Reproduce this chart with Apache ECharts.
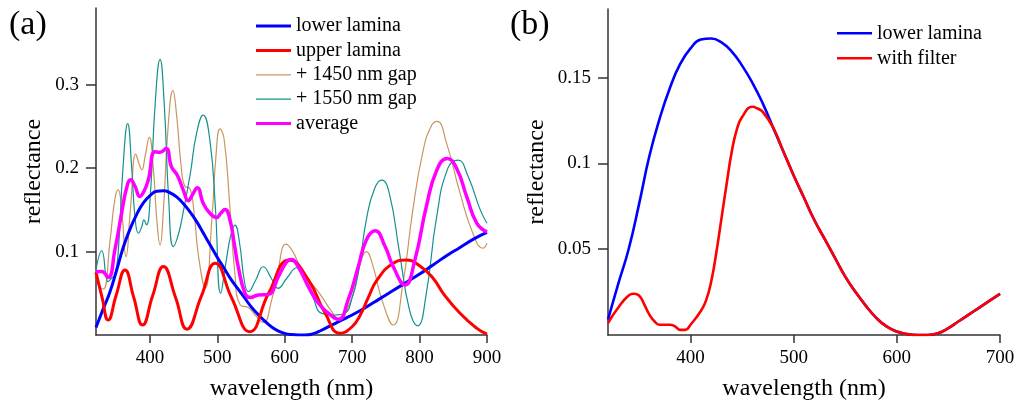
<!DOCTYPE html>
<html><head><meta charset="utf-8">
<script src="https://cdn.jsdelivr.net/npm/echarts@6/dist/echarts.min.js"></script>
<style>html,body{margin:0;padding:0;background:#fff}#c{width:1017px;height:403px}</style>
</head><body><div id="c"></div>
<script>
// ---------- data (panel a) ----------
const blueX = [320,330,340,350,360,370,380,390,400,410,420,430,440,450,460,470,480,490,500,510,520,530,540,550,560,570,580,590,600,610,620,630,640,650,660,670,680,690,700,720,740,760,780,800,820,840,860,880,900];
const blueY = [0.009,0.030,0.050,0.076,0.104,0.126,0.144,0.158,0.167,0.1722,0.1728,0.1705,0.1652,0.157,0.147,0.135,0.121,0.107,0.093,0.080,0.067,0.056,0.045,0.034,0.025,0.017,0.010,0.005,0.002,0.0005,0.000,0.000,0.001,0.004,0.008,0.012,0.016,0.020,0.024,0.033,0.043,0.053,0.063,0.073,0.084,0.095,0.105,0.115,0.123];

const upperX = [320,329,338,350,363,376,389,404,420,438,455,476,497,521,548,576,607,635,660,682,700,712,724,737,761,780,800,820,835,860,885,900];
const upperY = [0.075,0.045,0.018,0.048,0.078,0.045,0.012,0.047,0.082,0.045,0.007,0.046,0.086,0.045,0.004,0.050,0.090,0.066,0.026,0.002,0.010,0.024,0.045,0.066,0.086,0.090,0.083,0.068,0.050,0.026,0.008,0.001];

const gap1450X = [320,326,331,341,348,353,358,364.5,371,379,384,388,393,399,405,410,415,420,427,434,440,446,452,459,465,472,482,492,498,504,510,518,526,534,546,556,568,580,590,602,612,625,640,655,668,682,692,702,712,721,730,745,761,775,790,805,817,826,840,860,880,894,900];
const gap1450Y = [0.078,0.058,0.055,0.114,0.163,0.174,0.150,0.094,0.150,0.217,0.205,0.198,0.215,0.237,0.200,0.140,0.108,0.150,0.250,0.293,0.260,0.205,0.178,0.176,0.150,0.095,0.056,0.140,0.215,0.247,0.235,0.160,0.074,0.036,0.033,0.024,0.015,0.040,0.078,0.109,0.100,0.078,0.062,0.046,0.030,0.018,0.030,0.050,0.086,0.100,0.085,0.040,0.012,0.060,0.150,0.220,0.250,0.256,0.230,0.170,0.120,0.104,0.110];

const gap1550X = [320,328.5,338,343,348,353,360,367,373,378,383,388,391,395,400,408,415,421,428,434.7,442,450,460,469,479,489,497,505,512,520,526,533,540,546,557,568,580,590,603,618,630,642,655,675,689,700,709,721,733,744,755,770,785,797,810,825,842,857,872,890,900];
const gap1550Y = [0.078,0.101,0.064,0.068,0.072,0.100,0.200,0.2535,0.200,0.140,0.122,0.130,0.138,0.132,0.160,0.280,0.3305,0.280,0.160,0.106,0.120,0.150,0.194,0.241,0.2635,0.233,0.154,0.050,0.083,0.120,0.1317,0.110,0.065,0.052,0.066,0.0818,0.068,0.056,0.068,0.0806,0.068,0.045,0.026,0.024,0.026,0.045,0.074,0.138,0.175,0.1856,0.170,0.100,0.030,0.011,0.050,0.140,0.200,0.2096,0.190,0.150,0.134];

const avgX = [320,328.5,338,348,358,365,371.4,378,385,391,397.6,407.5,415,424,432,440.6,449.5,457,463,470.3,479,489,499,505,511.4,519,525,531,541,548.5,560.8,575.6,590.5,603,610,620,635,650,665,679.5,694,709,721,734,749,761,778.5,793,810,825.5,841,855,870,885,900];
const avgY = [0.0758,0.076,0.069,0.102,0.146,0.175,0.186,0.178,0.166,0.172,0.186,0.2196,0.219,0.2236,0.2016,0.1916,0.1737,0.161,0.168,0.1764,0.158,0.146,0.141,0.146,0.1505,0.137,0.110,0.0818,0.050,0.045,0.048,0.0487,0.070,0.0878,0.0906,0.0818,0.058,0.038,0.026,0.0188,0.042,0.0818,0.114,0.125,0.1058,0.0818,0.060,0.090,0.154,0.1976,0.2116,0.1996,0.1656,0.1338,0.1237];

// ---------- data (panel b) ----------
const lowerBX = [320,330,340,350,360,370,380,390,400,410,420,430,440,450,460,470,480,490,500,510,520,530,540,550,560,570,580,590,600,610,620,630,640,650,660,670,680,690,700];
const lowerBY = [0.009,0.030,0.050,0.076,0.104,0.126,0.144,0.158,0.167,0.1722,0.1728,0.1705,0.1652,0.157,0.147,0.135,0.121,0.107,0.093,0.080,0.067,0.056,0.045,0.034,0.025,0.017,0.010,0.005,0.002,0.0005,0.000,0.000,0.001,0.004,0.008,0.012,0.016,0.020,0.024];
const filterX = [320,330,340,345,350,355,360,365,370,380,385,390,395,400,410,415,420,425,430,435,440,445,450,460,465,470,480,490,500,510,520,530,540,550,560,570,580,590,600,610,620,630,640,650,660,670,680,690,700];
const filterY = [0.007,0.016,0.023,0.024,0.023,0.018,0.012,0.008,0.006,0.006,0.005,0.003,0.003,0.006,0.014,0.020,0.031,0.048,0.068,0.088,0.107,0.120,0.127,0.133,0.132,0.130,0.121,0.107,0.093,0.080,0.067,0.056,0.045,0.034,0.025,0.017,0.010,0.005,0.002,0.0005,0.000,0.000,0.001,0.004,0.008,0.012,0.016,0.020,0.024];

const ticksA_X = [400,500,600,700,800,900];
const ticksA_Y = [0.1,0.2,0.3];
const ticksB_X = [400,500,600,700];
const ticksB_Y = [0.05,0.1,0.15];

const zip = (xs, ys) => xs.map((x, i) => [x, ys[i]]);
const FONT = 'Liberation Serif';
const SM = 0.5;
const axisCommon = (labels, isY) => ({
  axisLine: {show: true, lineStyle: {color: '#333', width: 1.5}},
  axisTick: {show: true, inside: false, length: isY ? 10 : 8, lineStyle: {color: '#333', width: 1.5}, customValues: labels},
  axisLabel: {show: true, color: '#000', fontFamily: FONT, fontSize: 19, margin: isY ? 17 : 14, customValues: labels},
  splitLine: {show: false},
  nameTextStyle: {color: '#000', fontFamily: FONT, fontSize: 24},
  nameLocation: 'middle'
});

const option = {
  animation: false,
  title: [
    {text: '(a)', left: 9, top: 8, padding: 0, textStyle: {fontFamily: FONT, fontSize: 34, fontWeight: 'normal', color: '#000'}},
    {text: '(b)', left: 510, top: 8, padding: 0, textStyle: {fontFamily: FONT, fontSize: 34, fontWeight: 'normal', color: '#000'}}
  ],
  grid: [
    {left: 96, top: 8, width: 391, height: 327, containLabel: false, outerBoundsMode: 'none'},
    {left: 608, top: 9, width: 392, height: 326, containLabel: false, outerBoundsMode: 'none'}
  ],
  xAxis: [
    Object.assign(axisCommon(ticksA_X, false), {type: 'value', gridIndex: 0, min: 320, max: 900, name: 'wavelength (nm)', nameGap: 42}),
    Object.assign(axisCommon(ticksB_X, false), {type: 'value', gridIndex: 1, min: 320, max: 700, name: 'wavelength (nm)', nameGap: 42})
  ],
  yAxis: [
    Object.assign(axisCommon(ticksA_Y, true), {type: 'value', gridIndex: 0, min: 0, max: 0.392, name: 'reflectance', nameGap: 50}),
    Object.assign(axisCommon(ticksB_Y, true), {type: 'value', gridIndex: 1, min: 0, max: 0.19, name: 'reflectance', nameGap: 59})
  ],
  legend: [
    {data: ['lower lamina', 'upper lamina'], orient: 'vertical', left: 256, top: 16, padding: 0, itemGap: 4.4, itemWidth: 35, itemHeight: 3, icon: 'rect', selectedMode: false,
     textStyle: {fontFamily: FONT, fontSize: 20, lineHeight: 20, color: '#000'}},
    {data: ['+ 1450 nm gap', '+ 1550 nm gap'], orient: 'vertical', left: 256, top: 64.8, padding: 0, itemGap: 4.4, itemWidth: 35, itemHeight: 1.3, icon: 'rect', selectedMode: false,
     textStyle: {fontFamily: FONT, fontSize: 20, lineHeight: 20, color: '#000'}},
    {data: ['average'], orient: 'vertical', left: 256, top: 113.6, padding: 0, itemGap: 4.4, itemWidth: 35, itemHeight: 3, icon: 'rect', selectedMode: false,
     textStyle: {fontFamily: FONT, fontSize: 20, lineHeight: 20, color: '#000'}},
    {data: ['lower lamina ', 'with filter'], orient: 'vertical', left: 837, top: 23.3, padding: 0, itemGap: 5, itemWidth: 35, itemHeight: 2.6, icon: 'rect', selectedMode: false,
     textStyle: {fontFamily: FONT, fontSize: 20, lineHeight: 20, color: '#000'}}
  ],
  series: [
    {name: '+ 1450 nm gap', type: 'line', xAxisIndex: 0, yAxisIndex: 0, data: zip(gap1450X, gap1450Y), smooth: SM, symbol: 'none', color: '#c8965f', lineStyle: {width: 1.2, color: '#c8965f'}},
    {name: '+ 1550 nm gap', type: 'line', xAxisIndex: 0, yAxisIndex: 0, data: zip(gap1550X, gap1550Y), smooth: SM, symbol: 'none', color: '#139090', lineStyle: {width: 1.2, color: '#139090'}},
    {name: 'lower lamina', type: 'line', xAxisIndex: 0, yAxisIndex: 0, data: zip(blueX, blueY), smooth: SM, symbol: 'none', color: '#0000ff', lineStyle: {width: 3, color: '#0000ff'}},
    {name: 'upper lamina', type: 'line', xAxisIndex: 0, yAxisIndex: 0, data: zip(upperX, upperY), smooth: SM, symbol: 'none', color: '#ff0000', lineStyle: {width: 3, color: '#ff0000'}},
    {name: 'average', type: 'line', xAxisIndex: 0, yAxisIndex: 0, data: zip(avgX, avgY), smooth: SM, symbol: 'none', color: '#ff00ff', lineStyle: {width: 3.5, color: '#ff00ff'}},
    {name: 'lower lamina ', type: 'line', xAxisIndex: 1, yAxisIndex: 1, data: zip(lowerBX, lowerBY), smooth: SM, symbol: 'none', color: '#0000ff', lineStyle: {width: 2.6, color: '#0000ff'}},
    {name: 'with filter', type: 'line', xAxisIndex: 1, yAxisIndex: 1, data: zip(filterX, filterY), smooth: SM, symbol: 'none', color: '#ff0000', lineStyle: {width: 2.6, color: '#ff0000'}}
  ]
};
const chart = echarts.init(document.getElementById('c'), null, {renderer: 'canvas'});
chart.setOption(option);
</script></body></html>
